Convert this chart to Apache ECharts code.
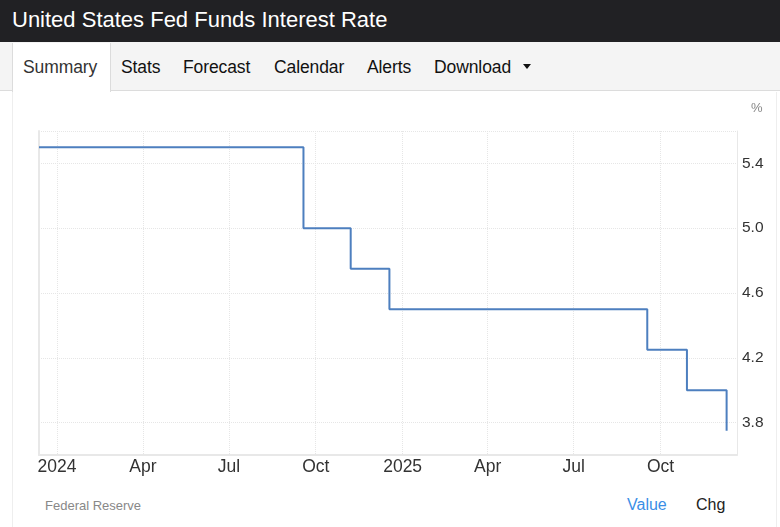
<!DOCTYPE html>
<html>
<head>
<meta charset="utf-8">
<script src="https://cdn.jsdelivr.net/npm/echarts@6/dist/echarts.min.js"></script>
<style>
  html, body { margin: 0; padding: 0; background: #fff; width: 780px; height: 527px; overflow: hidden; font-family: "Liberation Sans", Arial, sans-serif; }
  #header { position: absolute; left: 0; top: 0; width: 780px; height: 42px; background: #212124; }
  #title { position: absolute; left: 12px; top: 6px; color: #fff; font-size: 22px; line-height: 28px; letter-spacing: 0px; }
  #tabs { position: absolute; left: 0; top: 42px; width: 780px; height: 48px; background: #f4f4f4; border-bottom: 1px solid #dcdcdc; }
  #active { position: absolute; left: 12px; top: 43px; width: 97px; height: 49px; background: #fff; border-left: 1px solid #dcdcdc; border-right: 1px solid #dcdcdc; }
  .tab { position: absolute; top: 56px; font-size: 17.5px; line-height: 22px; color: #111; letter-spacing: -0.1px; }
  #caret { position: absolute; left: 523px; top: 64px; width: 0; height: 0; border-left: 4.5px solid transparent; border-right: 4.5px solid transparent; border-top: 5px solid #111; }
  #lborder { position: absolute; left: 12px; top: 92px; width: 1px; height: 435px; background: #eeeeee; }
  #rborder { position: absolute; left: 776px; top: 92px; width: 1px; height: 435px; background: #eeeeee; }
  #chart { position: absolute; left: 0; top: 91px; width: 780px; height: 400px; }
  #pct { position: absolute; left: 751px; top: 100px; font-size: 13px; color: #888; }
  #source { position: absolute; left: 45px; top: 498px; font-size: 13px; color: #888; }
  #value { position: absolute; left: 627px; top: 496px; font-size: 16px; color: #3a8ee6; }
  #chg { position: absolute; left: 696px; top: 496px; font-size: 16px; color: #222; }
</style>
</head>
<body>
<div id="header"><div id="title">United States Fed Funds Interest Rate</div></div>
<div id="tabs"></div>
<div id="active"></div>
<div class="tab" style="left:23px;color:#333">Summary</div>
<div class="tab" style="left:121px">Stats</div>
<div class="tab" style="left:183px">Forecast</div>
<div class="tab" style="left:274px">Calendar</div>
<div class="tab" style="left:367px">Alerts</div>
<div class="tab" style="left:434px">Download</div>
<div id="caret"></div>
<div id="lborder"></div>
<div id="rborder"></div>
<div id="chart"></div>
<div id="pct">%</div>
<div id="source">Federal Reserve</div>
<div id="value">Value</div>
<div id="chg">Chg</div>
<script>
// Data
var changeDates = ['2023-12-13', '2024-09-18', '2024-11-07', '2024-12-18', '2025-09-17', '2025-10-29', '2025-12-10'];
var rates = [5.5, 5.0, 4.75, 4.5, 4.25, 4.0, 3.75];
var xTickDates = ['2024-01-01', '2024-04-01', '2024-07-01', '2024-10-01', '2025-01-01', '2025-04-01', '2025-07-01', '2025-10-01'];
var xTickLabels = ['2024', 'Apr', 'Jul', 'Oct', '2025', 'Apr', 'Jul', 'Oct'];
var yTickLabels = [3.8, 4.2, 4.6, 5.0, 5.4];
var xMin = '2023-12-13';
var xMax = '2025-12-21';
var yMin = 3.6;
var yMax = 5.6;

function ts(s) { return Date.UTC(+s.slice(0, 4), +s.slice(5, 7) - 1, +s.slice(8, 10)); }
var xTickTs = xTickDates.map(ts);
var seriesData = changeDates.map(function (d, i) { return [ts(d), rates[i]]; });

var chart = echarts.init(document.getElementById('chart'), null, { renderer: 'canvas' });
chart.setOption({
  animation: false,
  backgroundColor: 'transparent',
  grid: { left: 39, right: 43, top: 40, bottom: 36, containLabel: false },
  xAxis: {
    type: 'value',
    min: ts(xMin),
    max: ts(xMax),
    axisLine: { show: true, lineStyle: { color: '#e8e8e8', width: 2 } },
    axisTick: { show: false, customValues: xTickTs },
    axisLabel: {
      customValues: xTickTs,
      hideOverlap: false,
      color: '#333',
      fontSize: 17.5,
      fontFamily: 'Liberation Sans, Arial, sans-serif',
      margin: 3,
      formatter: function (v) {
        var i = xTickTs.indexOf(v);
        return i >= 0 ? xTickLabels[i] : '';
      }
    },
    splitLine: { show: true, lineStyle: { color: '#e6e6e6', type: 'dotted', width: 1 } }
  },
  yAxis: [{
    type: 'value',
    position: 'right',
    min: yMin,
    max: yMax,
    axisLine: { show: true, lineStyle: { color: '#e8e8e8', width: 1 } },
    axisTick: { show: false, customValues: yTickLabels.concat([yMax]) },
    axisLabel: {
      customValues: yTickLabels,
      color: '#333',
      fontSize: 15.5,
      fontFamily: 'Liberation Sans, Arial, sans-serif',
      margin: 5,
      formatter: function (v) { return v.toFixed(1); }
    },
    splitLine: { show: true, lineStyle: { color: '#e6e6e6', type: 'dotted', width: 1 } }
  }, {
    type: 'value',
    position: 'left',
    min: yMin,
    max: yMax,
    axisLine: { show: true, lineStyle: { color: '#e8e8e8', width: 2 } },
    axisTick: { show: false },
    axisLabel: { show: false },
    splitLine: { show: false }
  }],
  series: [{
    type: 'line',
    step: 'end',
    yAxisIndex: 0,
    data: seriesData,
    showSymbol: false,
    symbol: 'none',
    lineStyle: { color: '#4d7fbf', width: 2 },
    itemStyle: { color: '#4d7fbf' }
  }]
});
</script>
</body>
</html>
